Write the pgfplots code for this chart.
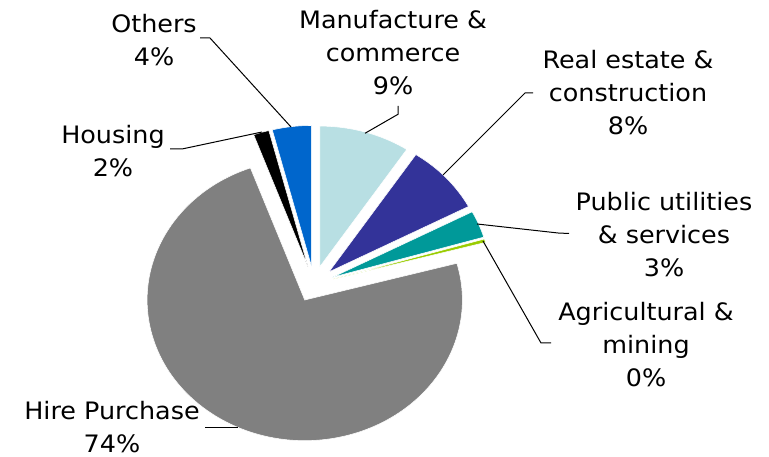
\documentclass[border=0pt]{standalone}
\usepackage{pgfplots}
\usepackage{pgfplotstable}
\usepackage{fontspec}
\setmainfont{DejaVu Sans}
\pgfplotsset{compat=1.18}
\definecolor{cManu}{HTML}{B8DFE3}
\definecolor{cReal}{HTML}{333399}
\definecolor{cPub}{HTML}{009999}
\definecolor{cAgri}{HTML}{99CC00}
\definecolor{cHire}{HTML}{808080}
\definecolor{cHous}{HTML}{000000}
\definecolor{cOth}{HTML}{0066CC}
\pgfplotstableread{
name val col
Manufacture 9.3 cManu
RealEstate 8.0 cReal
Public 3.1 cPub
Agri 0.4 cAgri
Hire 73.6 cHire
Housing 1.6 cHous
Others 4.0 cOth
}\pietable
\begin{document}
\begin{tikzpicture}
\begin{axis}[x=0.75pt, y=0.75pt, xmin=0, xmax=769, ymin=0, ymax=457,
  hide axis, clip=false]
\path (axis cs:0,0) rectangle (axis cs:769,457);
\gdef\cum{0}
\def\rx{118.2}\def\ry{105.5}\def\d{18}
\pgfplotsinvokeforeach{0,...,6}{
  \pgfplotstablegetelem{#1}{val}\of\pietable \let\v\pgfplotsretval
  \pgfplotstablegetelem{#1}{col}\of\pietable \let\c\pgfplotsretval
  \pgfmathsetmacro\sa{90-3.6*\cum}
  \pgfmathsetmacro\ea{90-3.6*(\cum+\v)}
  \pgfmathsetmacro\m{(\sa+\ea)/2}
  \pgfmathsetmacro\ox{314+\d*1.12*cos(\m)}
  \pgfmathsetmacro\oy{173+\d*sin(\m)}
  \pgfmathsetmacro\newcum{\cum+\v}\global\let\cum\newcum
  \edef\temp{\noexpand\fill[\c, draw=white, line width=0.4pt] (axis cs:\ox,\oy) -- ++(\sa:\rx pt and \ry pt) arc[start angle=\sa, end angle=\ea, x radius=\rx pt, y radius=\ry pt] -- cycle;}
  \temp
}
% leader lines
\draw[black, line width=0.75pt] (axis cs:398,351) -- (axis cs:398,342.7) -- (axis cs:365,323.7);
\draw[black, line width=0.75pt] (axis cs:533,364) -- (axis cs:525,364) -- (axis cs:443,282);
\draw[black, line width=0.75pt] (axis cs:477,233) -- (axis cs:558,224) -- (axis cs:569,223.5);
\draw[black, line width=0.75pt] (axis cs:483,216) -- (axis cs:541,114) -- (axis cs:551,114);
\draw[black, line width=0.75pt] (axis cs:200,419) -- (axis cs:210,419) -- (axis cs:291,330);
\draw[black, line width=0.75pt] (axis cs:170,308) -- (axis cs:182,308) -- (axis cs:262,325);
\draw[black, line width=0.75pt] (axis cs:205,29) -- (axis cs:238,29);
% labels
\tikzset{lab/.style={align=center, inner sep=0pt, xscale=1.06, transform shape, font=\fontsize{18}{24.75}\selectfont}}
\node[lab] at (axis cs:393,404) {Manufacture \&\\commerce\\9\%};
\node[lab] at (axis cs:628,364) {Real estate \&\\construction\\8\%};
\node[lab] at (axis cs:664,222) {Public utilities\\\& services\\3\%};
\node[lab] at (axis cs:646,112) {Agricultural \&\\mining\\0\%};
\node[lab] at (axis cs:154,417) {Others\\4\%};
\node[lab] at (axis cs:113,306) {Housing\\2\%};
\node[lab] at (axis cs:112,29.5) {Hire Purchase\\74\%};
\end{axis}
\end{tikzpicture}
\end{document}
